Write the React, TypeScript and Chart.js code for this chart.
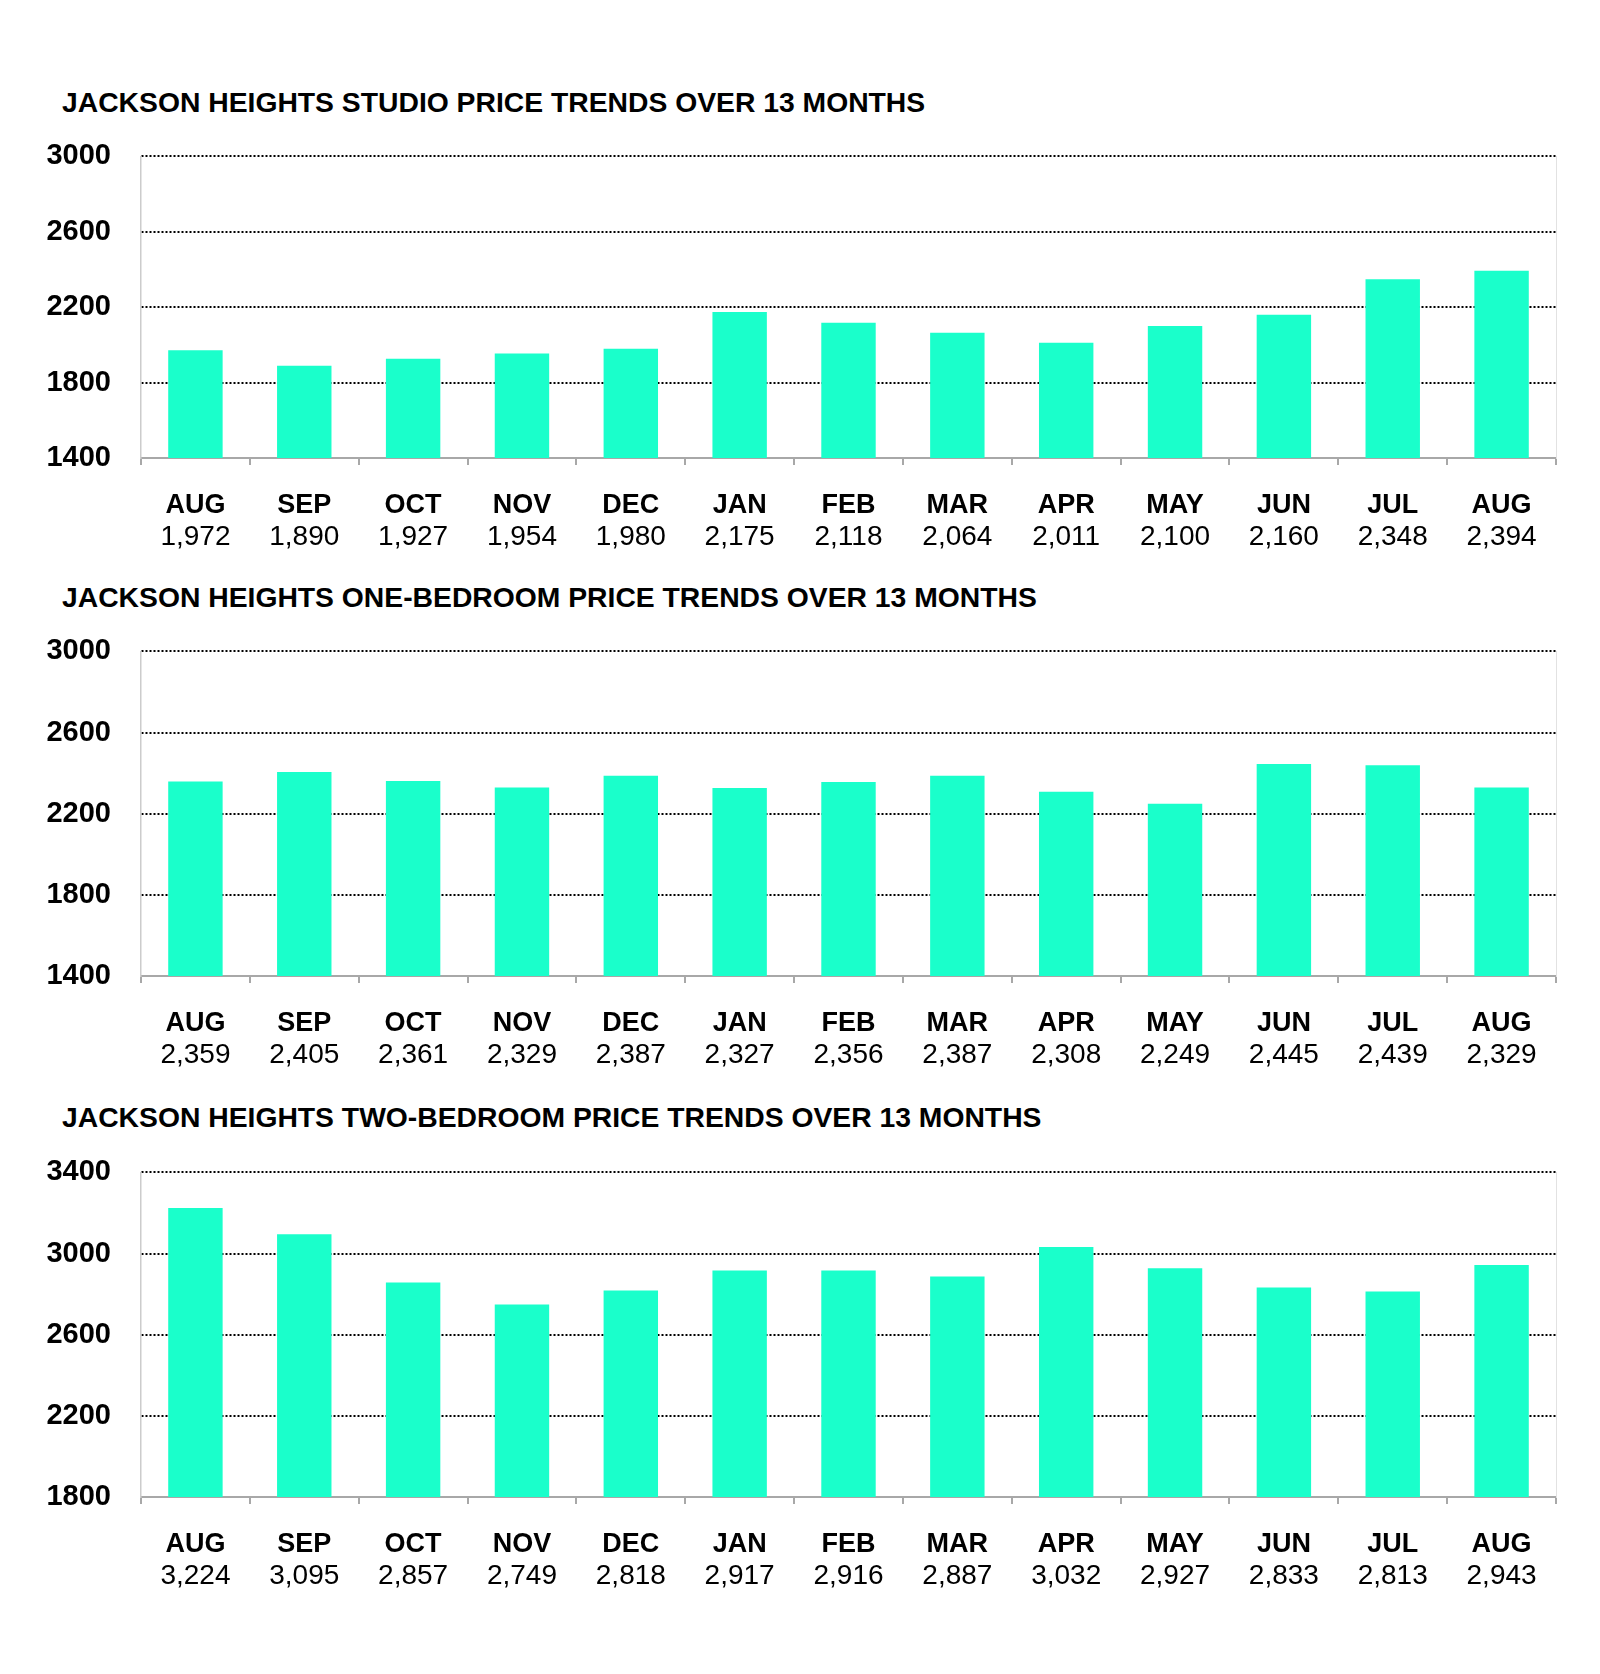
import React, { useEffect, useRef } from "react";
import { Chart, registerables } from "chart.js";

Chart.register(...registerables);

// ---- Data ----
const months = ["AUG", "SEP", "OCT", "NOV", "DEC", "JAN", "FEB", "MAR", "APR", "MAY", "JUN", "JUL", "AUG"];

const studioValues = [1972, 1890, 1927, 1954, 1980, 2175, 2118, 2064, 2011, 2100, 2160, 2348, 2394];
const oneBedroomValues = [2359, 2405, 2361, 2329, 2387, 2327, 2356, 2387, 2308, 2249, 2445, 2439, 2329];
const twoBedroomValues = [3224, 3095, 2857, 2749, 2818, 2917, 2916, 2887, 3032, 2927, 2833, 2813, 2943];

const studioAxis = [1400, 3000, 400];
const oneBedroomAxis = [1400, 3000, 400];
const twoBedroomAxis = [1800, 3400, 400];

const titles = [
  "JACKSON HEIGHTS STUDIO PRICE TRENDS OVER 13 MONTHS",
  "JACKSON HEIGHTS ONE-BEDROOM PRICE TRENDS OVER 13 MONTHS",
  "JACKSON HEIGHTS TWO-BEDROOM PRICE TRENDS OVER 13 MONTHS",
];

// ---- Layout (page pixels) ----
const panelLayout = [
  { titleCapTop: 92, plotTop: 156, plotBottom: 458 },
  { titleCapTop: 587, plotTop: 651, plotBottom: 976 },
  { titleCapTop: 1107, plotTop: 1172, plotBottom: 1497 },
];

const FONT = "'Liberation Sans', Arial, Helvetica, sans-serif";
const BAR_COLOR = "#1AFFCB";
const MONTH_AXIS_H = 61;
const VALUE_AXIS_H = 44;
const TOP_PAD = 30;
const Y_FONT = 29;
const Y_LABEL_HALF = (Y_FONT * 1.2) / 2;
const TITLE_SIZE = 28.3;

type PanelProps = {
  title: string;
  values: number[];
  axis: number[];
  titleCapTop: number;
  plotTop: number;
  plotBottom: number;
};

function Panel({ title, values, axis, titleCapTop, plotTop, plotBottom }: PanelProps) {
  const ref = useRef<HTMLCanvasElement | null>(null);
  const canvasTop = plotTop - TOP_PAD - Y_LABEL_HALF;
  const height = plotBottom - canvasTop + MONTH_AXIS_H + VALUE_AXIS_H;

  useEffect(() => {
    if (!ref.current) return;
    const [yMin, yMax, yStep] = axis;
    const valueLabels = values.map((v) => v.toLocaleString("en-US"));
    const chart = new Chart(ref.current, {
      type: "bar",
      data: {
        labels: months,
        datasets: [
          {
            data: values,
            backgroundColor: BAR_COLOR,
            borderWidth: 0,
            barPercentage: 0.5,
            categoryPercentage: 1.0,
            xAxisID: "x",
            yAxisID: "y",
          },
        ],
      },
      options: {
        responsive: false,
        animation: false,
        events: [],
        layout: { padding: { left: 40, right: 44, top: TOP_PAD, bottom: 0 } },
        plugins: {
          legend: { display: false },
          tooltip: { enabled: false },
          title: { display: false },
        },
        scales: {
          x: {
            type: "category",
            position: "bottom",
            weight: 0,
            offset: true,
            grid: {
              display: true,
              drawOnChartArea: false,
              drawTicks: true,
              tickLength: 7,
              color: "#a8a8a8",
              lineWidth: 2,
              offset: true,
            },
            border: { display: true, color: "#a8a8a8", width: 2 },
            ticks: {
              color: "#000",
              font: { family: FONT, size: 27, weight: "bold" },
              padding: 24,
              maxRotation: 0,
              autoSkip: false,
            },
            afterFit: (s: any) => {
              s.height = MONTH_AXIS_H;
            },
          },
          x2: {
            type: "category",
            position: "bottom",
            weight: 1,
            labels: valueLabels,
            offset: true,
            grid: { display: false, drawTicks: false },
            border: { display: false },
            ticks: {
              color: "#000",
              font: { family: FONT, size: 28, weight: "normal" },
              padding: 1,
              maxRotation: 0,
              autoSkip: false,
            },
            afterFit: (s: any) => {
              s.height = VALUE_AXIS_H;
            },
          },
          y: {
            type: "linear",
            position: "left",
            min: yMin,
            max: yMax,
            grid: {
              drawTicks: false,
              lineWidth: 2,
              color: (ctx: any) =>
                ctx.tick && ctx.tick.value === yMin ? "rgba(0,0,0,0)" : "#000000",
            },
            border: { display: true, color: "#cccccc", width: 1.5, dash: [2, 2] },
            ticks: {
              stepSize: yStep,
              color: "#000",
              font: { family: FONT, size: Y_FONT, weight: "bold" },
              padding: 30,
              callback: (v: any) => String(v),
            },
            afterFit: (s: any) => {
              s.width = 101;
            },
          },
          yRight: {
            type: "linear",
            position: "right",
            grid: { display: true, drawOnChartArea: false, drawTicks: false },
            border: { display: true, color: "#e2e2e2", width: 1 },
            ticks: { display: false },
          },
        },
      },
    } as any);
    return () => chart.destroy();
  }, [title, values, axis]);

  return (
    <>
      <div
        style={{
          position: "absolute",
          left: 62,
          top: titleCapTop - 3.7,
          fontFamily: FONT,
          fontWeight: "bold",
          fontSize: TITLE_SIZE,
          lineHeight: `${TITLE_SIZE}px`,
          color: "#000",
          whiteSpace: "nowrap",
        }}
      >
        {title}
      </div>
      <div style={{ position: "absolute", left: 0, top: canvasTop, width: 1600, height }}>
        <canvas ref={ref} width={1600} height={height} style={{ width: 1600, height, display: "block" }} />
      </div>
    </>
  );
}

export default function App() {
  const series = [studioValues, oneBedroomValues, twoBedroomValues];
  const axes = [studioAxis, oneBedroomAxis, twoBedroomAxis];
  return (
    <div
      style={{
        position: "absolute",
        left: 0,
        top: 0,
        width: 1600,
        height: 1674,
        background: "#fff",
        overflow: "hidden",
      }}
    >
      {titles.map((t, i) => (
        <Panel
          key={i}
          title={t}
          values={series[i]}
          axis={axes[i]}
          titleCapTop={panelLayout[i].titleCapTop}
          plotTop={panelLayout[i].plotTop}
          plotBottom={panelLayout[i].plotBottom}
        />
      ))}
    </div>
  );
}
